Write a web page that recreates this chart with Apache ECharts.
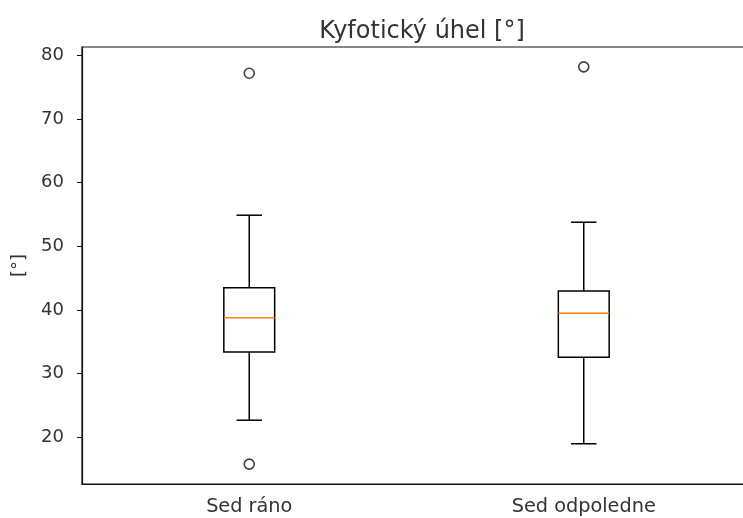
<!DOCTYPE html>
<html><head><meta charset="utf-8">
<script src="https://cdn.jsdelivr.net/npm/echarts@6/dist/echarts.min.js"></script>
<style>html,body{margin:0;padding:0;background:#fff}#c{width:743px;height:518px}</style>
</head><body><div id="c"></div>
<script>
const categories = ['Sed ráno', 'Sed odpoledne'];
const whiskerLow = [22.7, 19.0];
const q1 = [33.4, 32.6];
const median = [38.8, 39.5];
const q3 = [43.5, 43.0];
const whiskerHigh = [54.9, 53.8];
const outliers = [[0, 77.2], [0, 15.8], [1, 78.2]];
const yTicks = [20, 30, 40, 50, 60, 70, 80];

const font = 'DejaVu Sans';
const chart = echarts.init(document.getElementById('c'), null, {renderer: 'canvas'});

function renderBox(params, api) {
  const i = api.value(0);
  const band = api.size([1, 0])[0];
  const bw = band * 0.152;
  const cw = bw / 2;
  const cx = api.coord([i, median[i]])[0];
  const y = v => api.coord([i, v])[1];
  const lineStyle = {stroke: '#000', lineWidth: 1.5, fill: null};
  const yq1 = y(q1[i]), yq3 = y(q3[i]), ym = y(median[i]);
  const ylo = y(whiskerLow[i]), yhi = y(whiskerHigh[i]);
  return {
    type: 'group',
    children: [
      {type: 'rect', shape: {x: cx - bw / 2, y: yq3, width: bw, height: yq1 - yq3}, style: {stroke: '#000', lineWidth: 1.5, fill: 'transparent'}},
      {type: 'line', shape: {x1: cx - bw / 2, y1: ym, x2: cx + bw / 2, y2: ym}, style: {stroke: '#ff7f0e', lineWidth: 1.5}},
      {type: 'line', shape: {x1: cx, y1: yq3, x2: cx, y2: yhi}, style: lineStyle},
      {type: 'line', shape: {x1: cx, y1: yq1, x2: cx, y2: ylo}, style: lineStyle},
      {type: 'line', shape: {x1: cx - cw / 2, y1: yhi, x2: cx + cw / 2, y2: yhi}, style: lineStyle},
      {type: 'line', shape: {x1: cx - cw / 2, y1: ylo, x2: cx + cw / 2, y2: ylo}, style: lineStyle}
    ]
  };
}

chart.setOption({
  animation: false,
  backgroundColor: '#fff',
  title: {
    text: 'Kyfotický úhel [°]',
    left: 417, top: 15, textAlign: 'center',
    textStyle: {fontFamily: font, fontSize: 24, fontWeight: 'normal', color: '#333'}
  },
  grid: {left: 82, top: 47, width: 669, height: 437, show: true, borderColor: '#111', borderWidth: 1.2, backgroundColor: 'transparent', outerBoundsMode: 'none', containLabel: false},
  xAxis: {
    type: 'category', data: categories, boundaryGap: true,
    axisLine: {lineStyle: {color: '#111', width: 1.2}},
    axisTick: {alignWithLabel: true, length: 5, lineStyle: {color: '#111'}},
    axisLabel: {fontFamily: font, fontSize: 19.3, color: '#333', margin: 13},
    splitLine: {show: false}
  },
  yAxis: {
    type: 'value', min: 12.68, max: 81.32,
    name: '[°]', nameLocation: 'middle', nameRotate: 90, nameGap: 54,
    nameTextStyle: {fontFamily: font, fontSize: 18, color: '#333'},
    axisLine: {show: true, lineStyle: {color: '#111', width: 1.2}},
    axisTick: {show: true, length: 5, customValues: yTicks, lineStyle: {color: '#111'}},
    axisLabel: {fontFamily: font, fontSize: 18, color: '#333', margin: 18, customValues: yTicks},
    splitLine: {show: false}
  },
  series: [
    {
      type: 'custom',
      renderItem: renderBox,
      data: categories.map((c, i) => [i, median[i]]),
      encode: {x: 0, y: 1},
      z: 2
    },
    {
      type: 'scatter',
      data: outliers,
      symbol: 'circle',
      symbolSize: 10,
      itemStyle: {color: '#fff', borderColor: '#111', borderWidth: 1.6},
      z: 3
    }
  ]
});
</script></body></html>
